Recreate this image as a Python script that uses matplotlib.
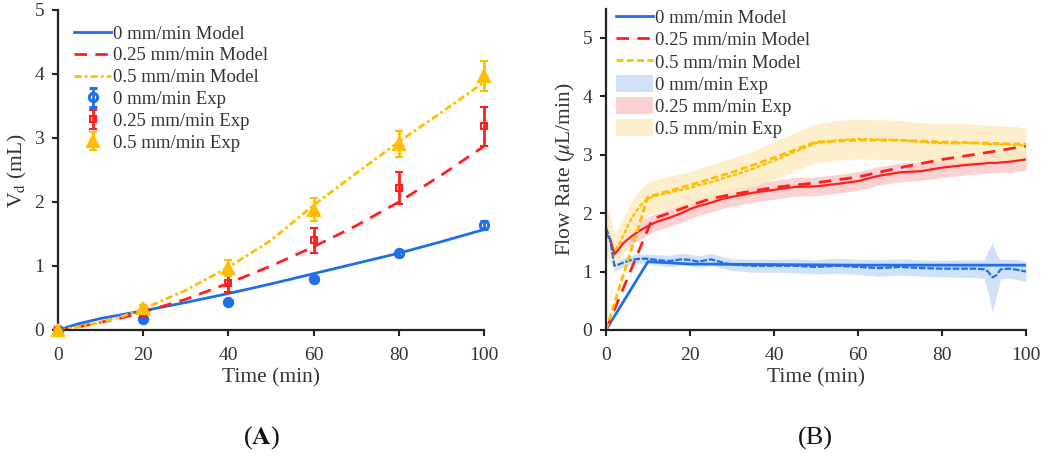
import matplotlib
matplotlib.use("Agg")
import matplotlib.pyplot as plt
import numpy as np

plt.rcParams['font.family'] = ['Liberation Serif', 'DejaVu Serif']
plt.rcParams['mathtext.fontset'] = 'stix'

BLUE = '#1f6fe6'
RED = '#ff1f1f'
YEL = '#ffbf00'
BAND_B = '#c9dcf7'
BAND_R = '#fbc9c9'
BAND_Y = '#fdecc4'
TXT = '#333333'

# ---------------- Panel A data ----------------
t_exp_A = [0, 20, 40, 60, 80, 100]
vd_0 = [0.0, 0.17, 0.44, 0.79, 1.20, 1.64]
vd_0_err = [0.01, 0.02, 0.02, 0.03, 0.04, 0.06]
vd_25 = [0.0, 0.25, 0.73, 1.40, 2.22, 3.18]
vd_25_err = [0.01, 0.03, 0.13, 0.19, 0.25, 0.31]
vd_50 = [0.0, 0.34, 0.97, 1.88, 2.91, 3.97]
vd_50_err = [0.01, 0.05, 0.13, 0.18, 0.20, 0.23]

t_model_A = [0, 5, 10, 15, 20, 30, 40, 50, 60, 70, 80, 90, 100]
vd_model_0 = [0.0, 0.10, 0.18, 0.24, 0.30, 0.43, 0.57, 0.72, 0.88, 1.04, 1.20, 1.38, 1.57]
vd_model_25 = [0.0, 0.05, 0.12, 0.19, 0.28, 0.48, 0.73, 1.00, 1.30, 1.63, 2.00, 2.42, 2.87]
vd_model_50 = [0.0, 0.05, 0.12, 0.21, 0.33, 0.62, 0.98, 1.40, 1.95, 2.45, 2.94, 3.40, 3.87]

# ---------------- Panel B data ----------------
t_exp_B = [0, 1, 2, 3, 4, 6, 8, 10, 12, 15, 18, 20, 22, 25, 28, 30, 35, 40, 45, 50,
           55, 60, 65, 70, 75, 80, 85, 88, 90, 91, 92, 93, 94, 96, 98, 100]
q0_mean = [1.75, 1.55, 1.10, 1.12, 1.15, 1.20, 1.22, 1.22, 1.20, 1.18, 1.21, 1.20, 1.17, 1.21, 1.15, 1.12,
           1.10, 1.10, 1.10, 1.08, 1.10, 1.08, 1.06, 1.08, 1.06, 1.05, 1.05, 1.05, 1.04, 1.00,
           0.90, 0.94, 1.04, 1.05, 1.03, 1.00]
q0_half = [0.35, 0.30, 0.10, 0.08, 0.08, 0.08, 0.08, 0.08, 0.09, 0.10, 0.10, 0.10, 0.10, 0.10, 0.10, 0.10,
           0.11, 0.11, 0.12, 0.12, 0.13, 0.13, 0.14, 0.14, 0.14, 0.14, 0.15, 0.15, 0.16, 0.35,
           0.60, 0.35, 0.16, 0.16, 0.17, 0.17]
q25_mean = [1.65, 1.55, 1.30, 1.38, 1.48, 1.60, 1.70, 1.78, 1.85, 1.92, 2.00, 2.07, 2.12, 2.18, 2.25, 2.28,
            2.35, 2.40, 2.45, 2.46, 2.50, 2.55, 2.64, 2.70, 2.72, 2.78, 2.82, 2.84, 2.85, 2.86,
            2.86, 2.86, 2.87, 2.88, 2.90, 2.92]
q25_half = [0.10, 0.12, 0.15, 0.15, 0.15, 0.15, 0.15, 0.15, 0.15, 0.15, 0.16, 0.16, 0.16, 0.16, 0.16, 0.16,
            0.16, 0.16, 0.16, 0.16, 0.16, 0.16, 0.16, 0.16, 0.16, 0.17, 0.17, 0.17, 0.17, 0.17,
            0.17, 0.17, 0.17, 0.18, 0.18, 0.18]
q50_mean = [1.72, 1.55, 1.35, 1.45, 1.60, 1.90, 2.12, 2.25, 2.30, 2.35, 2.40, 2.43, 2.48, 2.53, 2.60, 2.64,
            2.76, 2.90, 3.05, 3.20, 3.25, 3.27, 3.26, 3.25, 3.22, 3.20, 3.20, 3.20, 3.19, 3.19,
            3.18, 3.18, 3.18, 3.18, 3.17, 3.15]
q50_half = [0.45, 0.40, 0.30, 0.30, 0.30, 0.30, 0.28, 0.28, 0.28, 0.28, 0.28, 0.28, 0.29, 0.30, 0.30, 0.30,
            0.30, 0.32, 0.33, 0.33, 0.34, 0.34, 0.34, 0.34, 0.33, 0.33, 0.33, 0.32, 0.32, 0.32,
            0.32, 0.32, 0.32, 0.31, 0.31, 0.30]

t_model_B0 = [0, 10, 20, 40, 60, 80, 100]
q_model_0 = [0.0, 1.17, 1.13, 1.12, 1.11, 1.11, 1.11]
t_model_B25 = [0, 11, 15, 20, 25, 30, 40, 50, 60, 70, 80, 90, 100]
q_model_25 = [0.0, 1.90, 2.00, 2.13, 2.25, 2.32, 2.44, 2.52, 2.62, 2.78, 2.92, 3.03, 3.15]
t_model_B50 = [0, 10, 15, 20, 30, 40, 50, 60, 70, 80, 90, 100]
q_model_50 = [0.0, 2.28, 2.38, 2.48, 2.70, 2.95, 3.22, 3.25, 3.25, 3.22, 3.20, 3.18]

labels_model = ['0 mm/min Model', '0.25 mm/min Model', '0.5 mm/min Model']
labels_exp = ['0 mm/min Exp', '0.25 mm/min Exp', '0.5 mm/min Exp']
xticks = [0, 20, 40, 60, 80, 100]

fig = plt.figure(figsize=(10.5, 4.58), dpi=100)
axA = fig.add_axes([0.0552, 0.2795, 0.4058, 0.6987])
axB = fig.add_axes([0.5771, 0.2795, 0.4000, 0.7013])

DASH_R = (0, (4.5, 3))
DASH_Y = (0, (2.6, 1.1, 1.0, 1.1))
DASH_YB = (0, (2.5, 1.2))

def style(ax):
    for s in ['top', 'right']:
        ax.spines[s].set_visible(False)
    for s in ['left', 'bottom']:
        ax.spines[s].set_linewidth(1.6)
        ax.spines[s].set_color('#222222')
    ax.tick_params(direction='out', length=4, width=1.5, color='#222222',
                   labelsize=14, labelcolor=TXT)
    ax.tick_params(axis='x', pad=8)
    ax.tick_params(axis='y', pad=6)

# ---- Panel A ----
lA = []
lA += axA.plot(t_model_A, vd_model_0, color=BLUE, lw=2.0, label=labels_model[0])
lA += axA.plot(t_model_A, vd_model_25, color=RED, lw=2.0, ls=DASH_R, label=labels_model[1])
lA += axA.plot(t_model_A, vd_model_50, color=YEL, lw=2.0, ls=DASH_Y, label=labels_model[2])
e0 = axA.errorbar(t_exp_A, vd_0, yerr=vd_0_err, fmt='o', color=BLUE, ms=6, mfc='none', mew=2.2,
                  elinewidth=2, capsize=3, capthick=2, label=labels_exp[0], clip_on=False, zorder=3)
e1 = axA.errorbar(t_exp_A, vd_25, yerr=vd_25_err, fmt='s', color=RED, ms=5, mfc='none', mew=1.5,
                  elinewidth=2, capsize=3, capthick=2, label=labels_exp[1], clip_on=False, zorder=3)
e2 = axA.errorbar(t_exp_A, vd_50, yerr=vd_50_err, fmt='^', color=YEL, ms=9, mfc=YEL, mew=1.5,
                  elinewidth=2, capsize=3, capthick=2, label=labels_exp[2], clip_on=False, zorder=3)
axA.set_xlim(0, 100)
axA.set_ylim(0, 5)
axA.set_xticks(xticks)
axA.set_yticks([0, 1, 2, 3, 4, 5])
style(axA)
axA.set_xlabel('Time (min)', fontsize=15.5, color=TXT, labelpad=3)
axA.set_ylabel(r'V$_{\rm d}$ (mL)', fontsize=15.5, color=TXT, labelpad=4)
axA.legend(handles=lA + [e0, e1, e2], loc='upper left', bbox_to_anchor=(0.02, 0.975),
           frameon=False, fontsize=13.5, handlelength=2.0, handletextpad=0.1,
           labelspacing=0.25, borderaxespad=0.0, labelcolor=TXT)

# ---- Panel B ----
t = np.array(t_exp_B)
bands = []
for mean, half, bc in [(q0_mean, q0_half, BAND_B), (q25_mean, q25_half, BAND_R), (q50_mean, q50_half, BAND_Y)]:
    m = np.array(mean); h = np.array(half)
    bands.append(axB.fill_between(t, m - h, m + h, color=bc, lw=0, alpha=0.85))
bands[0].set_label(labels_exp[0]); bands[1].set_label(labels_exp[1]); bands[2].set_label(labels_exp[2])
axB.plot(t, q50_mean, color=YEL, lw=1.6, ls=(0, (2, 0.8)))
axB.plot(t, q25_mean, color=RED, lw=1.6)
axB.plot(t, q0_mean, color=BLUE, lw=1.6, ls=(0, (3, 0.8)))
lB = []
lB += axB.plot(t_model_B0, q_model_0, color=BLUE, lw=2.0, label=labels_model[0])
lB += axB.plot(t_model_B25, q_model_25, color=RED, lw=2.0, ls=DASH_R, label=labels_model[1])
lB += axB.plot(t_model_B50, q_model_50, color=YEL, lw=2.0, ls=DASH_YB, label=labels_model[2])
axB.set_xlim(0, 100)
axB.set_ylim(0, 5.5)
axB.set_xticks(xticks)
axB.set_yticks([0, 1, 2, 3, 4, 5])
style(axB)
axB.set_xlabel('Time (min)', fontsize=15.5, color=TXT, labelpad=3)
axB.set_ylabel(r'Flow Rate ($\mu$L/min)', fontsize=15.5, color=TXT, labelpad=4)
axB.legend(handles=lB + bands, loc='upper left', bbox_to_anchor=(0.005, 1.025),
           frameon=False, fontsize=13.5, handlelength=2.0, handleheight=1.05, handletextpad=0.1,
           labelspacing=0.16, borderaxespad=0.0, labelcolor=TXT)

fig.text(262 / 1050, 1 - 438 / 458, r'($\mathbf{A}$)', ha='center', va='center', fontsize=19, color='#111111')
fig.text(815 / 1050, 1 - 438 / 458, '(B)', ha='center', va='center', fontsize=19, color='#111111')

fig.savefig('out.png', dpi=100)
